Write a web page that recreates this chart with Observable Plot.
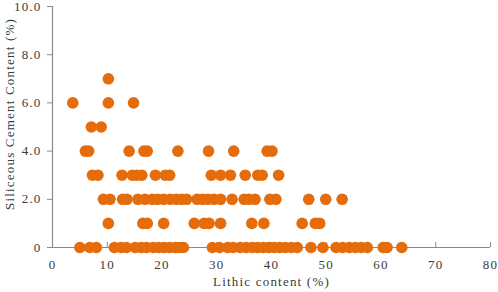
<!DOCTYPE html>
<html>
<head>
<meta charset="utf-8">
<script src="https://cdn.jsdelivr.net/npm/d3@7"></script>
<script src="https://cdn.jsdelivr.net/npm/@observablehq/plot@0.6"></script>
<style>
  html, body { margin: 0; padding: 0; background: #fff; }
</style>
</head>
<body>
<div id="chart"></div>
<script>
// Lithic content (%) of samples at each siliceous cement level (%)
const lithicAtCement0 = [5.0, 6.8, 8.0, 11.3, 12.5, 13.5, 15.1, 16.2, 17.2, 18.4, 19.4, 20.4, 21.4, 22.4, 23.2, 23.9, 29.2, 30.5, 32.0, 33.0, 34.3, 35.4, 36.5, 37.5, 38.5, 39.5, 40.5, 41.5, 42.5, 43.6, 44.7, 47.2, 49.4, 51.8, 53.0, 54.2, 55.3, 56.4, 57.5, 60.4, 61.1, 63.8];
const lithicAtCement1 = [10.2, 16.5, 17.3, 20.3, 25.9, 27.7, 28.6, 30.7, 36.4, 38.6, 45.6, 48.0, 48.8];
const lithicAtCement2 = [9.3, 10.5, 12.8, 13.6, 15.6, 16.9, 18.2, 19.2, 20.3, 21.5, 22.6, 23.6, 24.5, 26.4, 27.4, 28.4, 29.5, 30.7, 32.8, 35.0, 35.9, 37.0, 39.7, 40.8, 46.8, 49.9, 52.9];
const lithicAtCement3 = [7.3, 8.3, 12.7, 14.6, 15.4, 16.3, 18.8, 20.6, 21.4, 29.0, 30.7, 32.5, 35.2, 37.5, 38.3, 41.3];
const lithicAtCement4 = [6.0, 6.6, 14.0, 16.7, 17.3, 22.9, 28.5, 33.1, 39.2, 40.1];
const lithicAtCement5 = [7.1, 8.9];
const lithicAtCement6 = [3.7, 10.2, 14.8];
const lithicAtCement7 = [10.2];
const cementLevels = [0, 1, 2, 3, 4, 5, 6, 7];

const xTicks = [0, 10, 20, 30, 40, 50, 60, 70, 80];
const yTicks = [0, 2, 4, 6, 8, 10];
const yTickLabels = ["0", "2.0", "4.0", "6.0", "8.0", "10.0"];
const xTitle = "Lithic content (%)";
const yTitle = "Siliceous Cement Content (%)";

const groups = [lithicAtCement0, lithicAtCement1, lithicAtCement2, lithicAtCement3,
                lithicAtCement4, lithicAtCement5, lithicAtCement6, lithicAtCement7];
const data = [];
groups.forEach((arr, i) => arr.forEach(v => data.push({lithic: v, cement: cementLevels[i]})));

const axisColor = "#8a8a8a";
const textColor = "#3a3a3a";
const dotColor = "#e46c0a";

const chart = Plot.plot({
  width: 498,
  height: 292,
  marginLeft: 52,
  marginRight: 8,
  marginTop: 6,
  marginBottom: 45,
  style: {
    fontFamily: "'Liberation Serif', 'Times New Roman', serif",
    fontSize: "13px",
    letterSpacing: "1.2px",
    color: textColor,
    background: "#fff"
  },
  x: {domain: [0, 80]},
  y: {domain: [0, 10]},
  marks: [
    Plot.ruleX([0], {stroke: axisColor, strokeWidth: 1.2}),
    Plot.ruleY([0], {stroke: axisColor, strokeWidth: 1.2}),
    Plot.axisY({
      ticks: yTicks,
      tickSize: 5,
      tickPadding: 6,
      tickFormat: d => yTickLabels[yTicks.indexOf(d)],
      stroke: axisColor,
      fill: textColor,
      label: null
    }),
    Plot.axisX({
      ticks: xTicks,
      tickSize: -5,
      tickPadding: 17,
      stroke: axisColor,
      fill: textColor,
      label: null
    }),
    Plot.dot(data, {x: "lithic", y: "cement", r: 5.8, fill: dotColor, stroke: "none"}),
    Plot.text([xTitle], {frameAnchor: "bottom", dy: 38, fill: textColor, fontSize: 13}),
    Plot.text([yTitle], {frameAnchor: "left", textAnchor: "middle", rotate: -90, dx: -43, dy: -13, fill: textColor, fontSize: 13})
  ]
});
document.getElementById("chart").appendChild(chart);
</script>
</body>
</html>
